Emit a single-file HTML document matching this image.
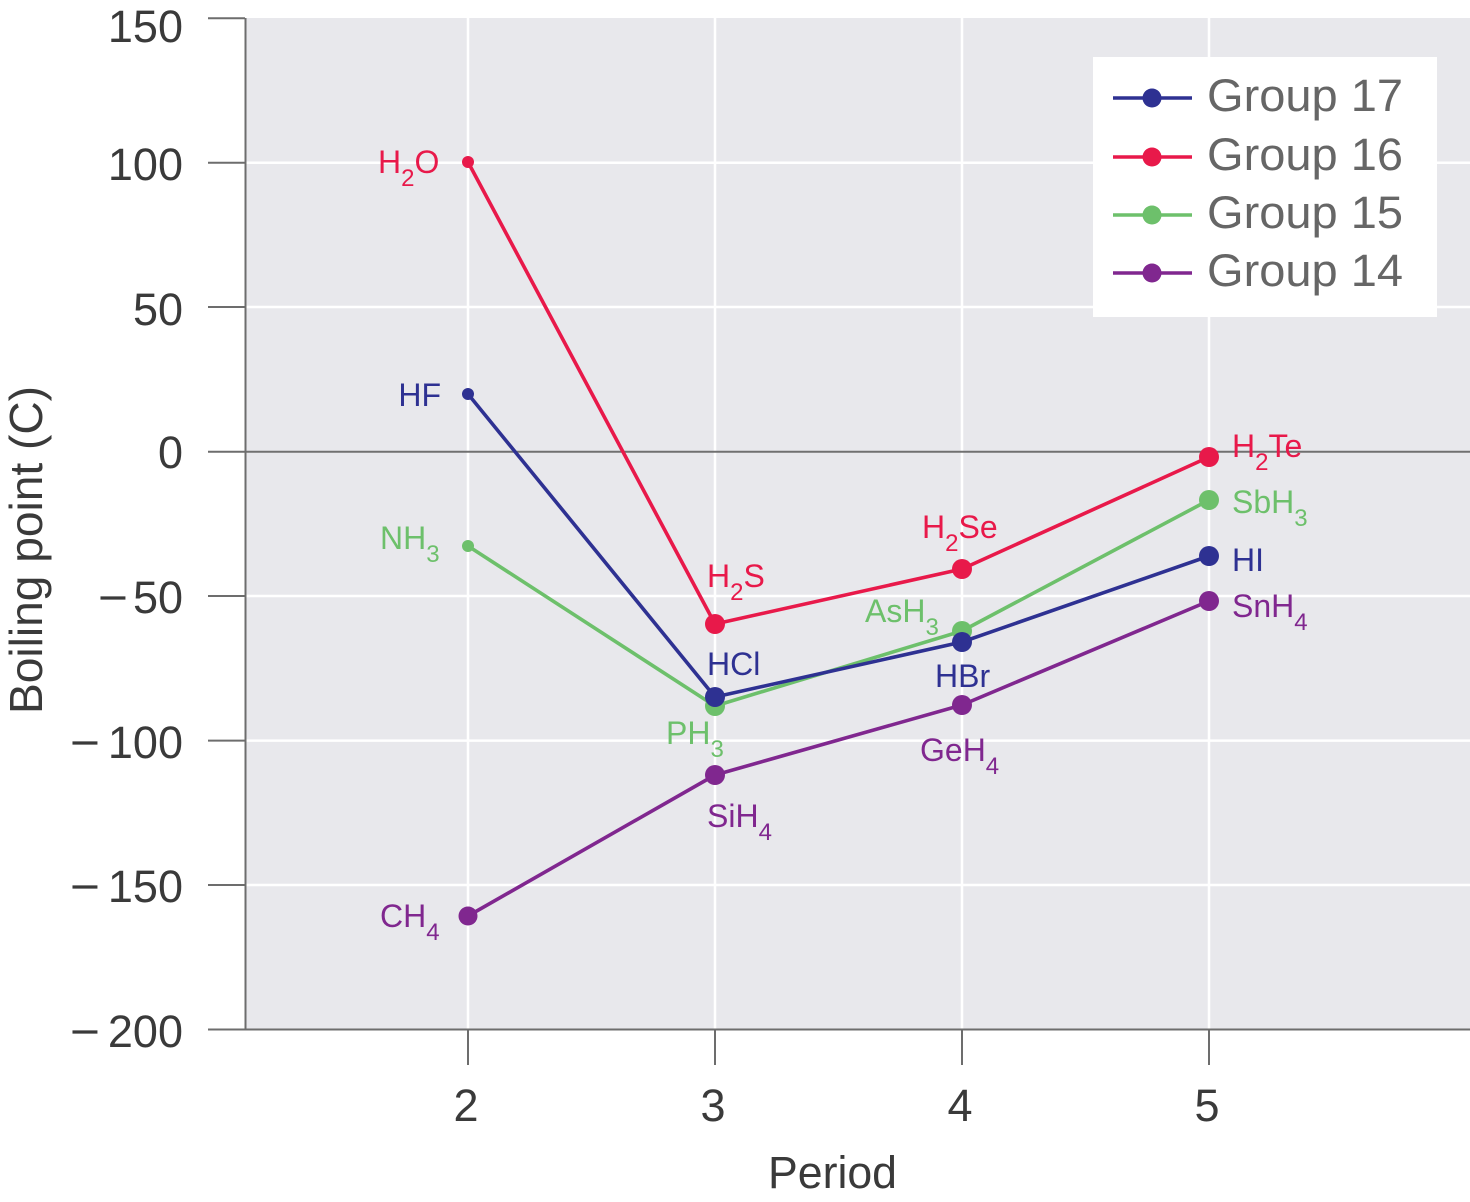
<!DOCTYPE html>
<html>
<head>
<meta charset="utf-8">
<style>
  html,body{margin:0;padding:0;background:#fff;}
  svg{display:block;}
  text{font-family:"Liberation Sans", sans-serif;}
</style>
</head>
<body>
<svg width="1470" height="1202" viewBox="0 0 1470 1202" xmlns="http://www.w3.org/2000/svg">
  <!-- plot background -->
  <rect x="245" y="18" width="1225" height="1011" fill="#e8e8ec"/>
  <!-- grid lines -->
  <g stroke="#ffffff" stroke-width="2.5">
    <line x1="245" y1="162.7" x2="1470" y2="162.7"/>
    <line x1="245" y1="307" x2="1470" y2="307"/>
    <line x1="245" y1="596" x2="1470" y2="596"/>
    <line x1="245" y1="740.6" x2="1470" y2="740.6"/>
    <line x1="245" y1="885" x2="1470" y2="885"/>
    <line x1="468" y1="18" x2="468" y2="1029"/>
    <line x1="715" y1="18" x2="715" y2="1029"/>
    <line x1="962" y1="18" x2="962" y2="1029"/>
    <line x1="1209" y1="18" x2="1209" y2="1029"/>
  </g>
  <!-- zero line -->
  <line x1="245" y1="451.7" x2="1470" y2="451.7" stroke="#707070" stroke-width="2"/>
  <!-- axes -->
  <g stroke="#6d6d6d" stroke-width="2">
    <line x1="245.5" y1="18" x2="245.5" y2="1030"/>
    <line x1="245" y1="1029.5" x2="1470" y2="1029.5"/>
    <line x1="208" y1="18.3" x2="245" y2="18.3"/>
    <line x1="208" y1="162.7" x2="245" y2="162.7"/>
    <line x1="208" y1="307" x2="245" y2="307"/>
    <line x1="208" y1="451.7" x2="245" y2="451.7"/>
    <line x1="208" y1="596" x2="245" y2="596"/>
    <line x1="208" y1="740.6" x2="245" y2="740.6"/>
    <line x1="208" y1="885" x2="245" y2="885"/>
    <line x1="208" y1="1029.5" x2="245" y2="1029.5"/>
    <line x1="468" y1="1029" x2="468" y2="1065"/>
    <line x1="715" y1="1029" x2="715" y2="1065"/>
    <line x1="962" y1="1029" x2="962" y2="1065"/>
    <line x1="1209" y1="1029" x2="1209" y2="1065"/>
  </g>
  <!-- y tick labels -->
  <g fill="#3a3a3a" font-size="45" text-anchor="end">
    <text x="183" y="42">150</text>
    <text x="183" y="180">100</text>
    <text x="183" y="325">50</text>
    <text x="183" y="468">0</text>
    <text x="183" y="613">50</text>
    <text x="183" y="758">100</text>
    <text x="183" y="902">150</text>
    <text x="183" y="1047">200</text>
    <text x="128" y="613" textLength="30" lengthAdjust="spacingAndGlyphs">−</text>
    <text x="100" y="758" textLength="30" lengthAdjust="spacingAndGlyphs">−</text>
    <text x="100" y="902" textLength="30" lengthAdjust="spacingAndGlyphs">−</text>
    <text x="100" y="1047" textLength="30" lengthAdjust="spacingAndGlyphs">−</text>
  </g>
  <!-- x tick labels -->
  <g fill="#3a3a3a" font-size="45" text-anchor="middle">
    <text x="466" y="1121">2</text>
    <text x="713" y="1121">3</text>
    <text x="960" y="1121">4</text>
    <text x="1207" y="1121">5</text>
  </g>
  <!-- axis titles -->
  <text x="768" y="1188" fill="#3a3a3a" font-size="45" textLength="129" lengthAdjust="spacingAndGlyphs">Period</text>
  <text transform="translate(42,714) rotate(-90)" x="0" y="0" fill="#3a3a3a" font-size="46" textLength="328" lengthAdjust="spacingAndGlyphs">Boiling point (C)</text>

  <!-- series lines -->
  <g fill="none" stroke-width="3.6" stroke-linejoin="round">
    <polyline stroke="#80278f" points="468,916 715,775 962,705 1209,601"/>
    <polyline stroke="#6dc06b" points="468,546 715,706 962,631 1209,500"/>
    <polyline stroke="#e8194a" points="468,162 715,624 962,569 1209,457"/>
    <polyline stroke="#2e3192" points="468,394 715,697 962,642 1209,556"/>
  </g>
  <!-- markers -->
  <g fill="#80278f">
    <circle cx="468" cy="916" r="9.5"/>
    <circle cx="715" cy="775" r="10"/>
    <circle cx="962" cy="705" r="10"/>
    <circle cx="1209" cy="601" r="10"/>
  </g>
  <g fill="#6dc06b">
    <circle cx="468" cy="546" r="6"/>
    <circle cx="715" cy="706" r="10"/>
    <circle cx="962" cy="631" r="10"/>
    <circle cx="1209" cy="500" r="10"/>
  </g>
  <g fill="#e8194a">
    <circle cx="468" cy="162" r="6"/>
    <circle cx="715" cy="624" r="10"/>
    <circle cx="962" cy="569" r="10"/>
    <circle cx="1209" cy="457" r="10"/>
  </g>
  <g fill="#2e3192">
    <circle cx="468" cy="394" r="6"/>
    <circle cx="715" cy="697" r="10"/>
    <circle cx="962" cy="642" r="10"/>
    <circle cx="1209" cy="556" r="10"/>
  </g>

  <!-- data labels -->
  <g font-size="32">
    <text x="378" y="173" fill="#e8194a">H<tspan font-size="24" dy="13">2</tspan><tspan dy="-13">O</tspan></text>
    <text x="707" y="587" fill="#e8194a">H<tspan font-size="24" dy="13">2</tspan><tspan dy="-13">S</tspan></text>
    <text x="922" y="538" fill="#e8194a">H<tspan font-size="24" dy="13">2</tspan><tspan dy="-13">Se</tspan></text>
    <text x="1232" y="457" fill="#e8194a">H<tspan font-size="24" dy="13">2</tspan><tspan dy="-13">Te</tspan></text>
    <text x="441" y="406" fill="#2e3192" text-anchor="end">HF</text>
    <text x="707" y="675" fill="#2e3192">HCl</text>
    <text x="935" y="687" fill="#2e3192">HBr</text>
    <text x="1232" y="571" fill="#2e3192">HI</text>
    <text x="380" y="549" fill="#6dc06b">NH<tspan font-size="24" dy="13">3</tspan></text>
    <text x="666" y="744" fill="#6dc06b">PH<tspan font-size="24" dy="13">3</tspan></text>
    <text x="865" y="622" fill="#6dc06b">AsH<tspan font-size="24" dy="13">3</tspan></text>
    <text x="1232" y="513" fill="#6dc06b">SbH<tspan font-size="24" dy="13">3</tspan></text>
    <text x="380" y="927" fill="#80278f">CH<tspan font-size="24" dy="13">4</tspan></text>
    <text x="707" y="827" fill="#80278f">SiH<tspan font-size="24" dy="13">4</tspan></text>
    <text x="920" y="761" fill="#80278f">GeH<tspan font-size="24" dy="13">4</tspan></text>
    <text x="1232" y="617" fill="#80278f">SnH<tspan font-size="24" dy="13">4</tspan></text>
  </g>

  <!-- legend -->
  <rect x="1093" y="57" width="344" height="260" fill="#ffffff"/>
  <g stroke-width="3.6">
    <line x1="1113" y1="98" x2="1192" y2="98" stroke="#2e3192"/>
    <line x1="1113" y1="157" x2="1192" y2="157" stroke="#e8194a"/>
    <line x1="1113" y1="215" x2="1192" y2="215" stroke="#6dc06b"/>
    <line x1="1113" y1="273" x2="1192" y2="273" stroke="#80278f"/>
  </g>
  <circle cx="1152" cy="98" r="9.5" fill="#2e3192"/>
  <circle cx="1152" cy="157" r="9.5" fill="#e8194a"/>
  <circle cx="1152" cy="215" r="9.5" fill="#6dc06b"/>
  <circle cx="1152" cy="273" r="9.5" fill="#80278f"/>
  <g fill="#666666" font-size="45">
    <text x="1207" y="111" textLength="196" lengthAdjust="spacingAndGlyphs">Group 17</text>
    <text x="1207" y="170" textLength="196" lengthAdjust="spacingAndGlyphs">Group 16</text>
    <text x="1207" y="228" textLength="196" lengthAdjust="spacingAndGlyphs">Group 15</text>
    <text x="1207" y="286" textLength="196" lengthAdjust="spacingAndGlyphs">Group 14</text>
  </g>
</svg>
</body>
</html>
